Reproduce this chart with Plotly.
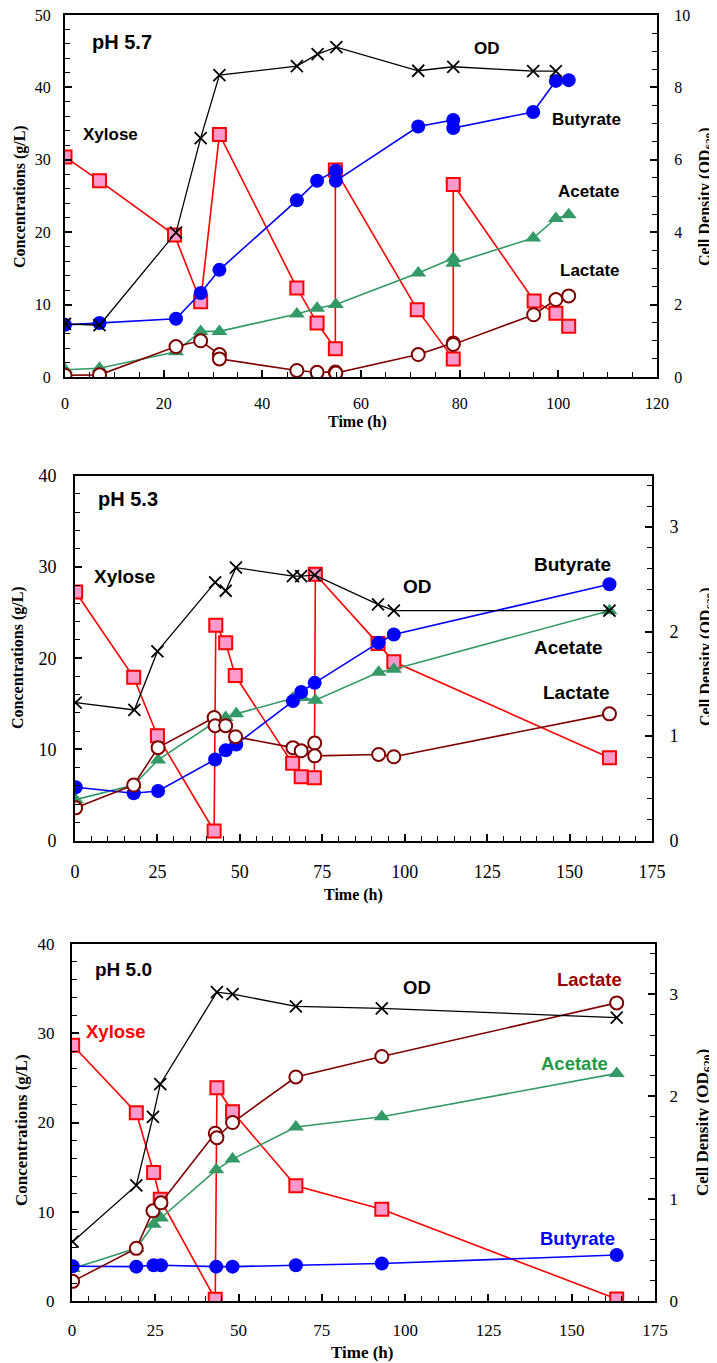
import plotly.graph_objects as go

W, H = 717, 1363
OFF = 8  # page body margin of the browser

# ---------------- Panel 1 : pH 5.7 ----------------
p1_xyl_t = [0, 7.0, 22.2, 27.5, 31.3, 47.0, 51.1, 54.8, 54.8, 71.4, 78.7, 78.7, 95.1, 99.5, 102.1]
p1_xyl = [30.4, 27.1, 19.6, 10.4, 33.5, 12.3, 7.45, 3.9, 28.6, 9.3, 2.5, 26.6, 10.5, 8.8, 7.0]
p1_but_t = [0, 7, 22.5, 27.5, 31.3, 47, 51.1, 54.9, 54.9, 71.6, 78.7, 78.7, 94.9, 99.5, 102.1]
p1_but = [7.2, 7.45, 8.05, 11.6, 14.8, 24.4, 27.1, 28.5, 27.1, 34.6, 35.5, 34.4, 36.6, 40.9, 41.0]
p1_ace_t = [0, 7, 22.5, 27.5, 31.3, 47, 51.1, 54.9, 71.6, 78.7, 78.7, 94.9, 99.5, 102.1]
p1_ace = [1.0, 1.2, 3.5, 6.3, 6.3, 8.7, 9.5, 10.0, 14.35, 16.4, 15.7, 19.2, 21.9, 22.4]
p1_lac_t = [0, 7, 22.5, 27.5, 31.3, 31.3, 47, 51.1, 54.8, 54.9, 71.6, 78.7, 78.7, 95.0, 99.5, 102.1]
p1_lac = [0.25, 0.3, 4.2, 5.0, 3.1, 2.5, 0.9, 0.65, 0.7, 0.55, 3.1, 4.7, 4.5, 8.6, 10.7, 11.2]
p1_od_t = [0, 7, 22.5, 27.5, 31.3, 47, 51.2, 55, 71.6, 78.7, 94.9, 99.5]
p1_od = [1.47, 1.43, 3.99, 6.6, 8.34, 8.59, 8.92, 9.11, 8.46, 8.57, 8.45, 8.45]

# ---------------- Panel 2 : pH 5.3 ----------------
p2_xyl_t = [0.2, 17.8, 25, 42.2, 42.7, 45.7, 48.6, 66, 68.6, 72.6, 72.9, 91.9, 96.7, 162.1]
p2_xyl = [27.25, 17.9, 11.5, 1.06, 23.6, 21.7, 18.1, 8.5, 7.0, 6.9, 29.2, 21.6, 19.6, 9.1]
p2_but_t = [0.2, 17.8, 25.2, 42.5, 45.7, 48.9, 66.1, 68.6, 72.7, 92.1, 96.7, 162.1]
p2_but = [5.85, 5.2, 5.45, 8.9, 9.9, 10.55, 15.3, 16.3, 17.3, 21.7, 22.6, 28.1]
p2_ace_t = [0.2, 17.8, 25.2, 42.5, 45.7, 48.9, 66.1, 68.9, 72.9, 92.1, 96.7, 162.1]
p2_ace = [4.5, 6.1, 8.85, 13.0, 13.5, 13.9, 15.6, 15.7, 15.4, 18.45, 18.8, 25.2]
p2_lac_t = [0.2, 17.8, 25.2, 42.2, 42.5, 45.7, 48.7, 66.1, 68.6, 72.7, 72.7, 92.1, 96.7, 162.1]
p2_lac = [3.6, 6.1, 10.2, 13.5, 12.6, 12.6, 11.4, 10.2, 9.85, 10.7, 9.3, 9.45, 9.2, 13.9]
p2_od_t = [0.2, 18, 25, 42.5, 45.7, 48.8, 66.1, 68.6, 72.7, 91.9, 96.7, 162.1]
p2_od = [1.32, 1.25, 1.81, 2.47, 2.39, 2.61, 2.53, 2.53, 2.54, 2.26, 2.20, 2.20]

# ---------------- Panel 3 : pH 5.0 ----------------
p3_xyl_t = [0.2, 19.3, 24.5, 26.5, 43, 43.5, 48.2, 67.2, 93, 163.5]
p3_xyl = [28.65, 21.1, 14.4, 11.4, 0.2, 23.9, 21.2, 12.9, 10.27, 0.22]
p3_but_t = [0.2, 19.3, 24.5, 26.7, 43.3, 48.2, 67.2, 93, 163.5]
p3_but = [3.9, 3.85, 4.0, 4.0, 3.85, 3.85, 4.0, 4.2, 5.15]
p3_ace_t = [0.2, 19.3, 24.5, 26.7, 43.3, 48.2, 67.2, 93, 163.5]
p3_ace = [3.65, 5.9, 8.6, 9.3, 14.7, 15.9, 19.5, 20.65, 25.5]
p3_lac_t = [0.2, 19.3, 24.3, 26.7, 43, 43.5, 48.2, 67.2, 93, 163.5]
p3_lac = [2.2, 5.9, 10.1, 11.0, 18.8, 18.3, 20.0, 25.1, 27.4, 33.4]
p3_od_t = [0.2, 19.3, 24.3, 26.5, 43.5, 48.2, 67.2, 93, 163.5]
p3_od = [0.58, 1.13, 1.80, 2.12, 3.02, 3.0, 2.88, 2.86, 2.77]

panel_titles = ["pH 5.7", "pH 5.3", "pH 5.0"]

RED, PINK = "#FF0000", "#FF99CC"
GREEN = "#339966"
BLUE = "#0000FF"
BROWN = "#800000"

def fx(x):
    return (x - OFF) / W

def fy(y):
    return 1 - (y - OFF) / H

fig = go.Figure()

panels = [
    dict(xyl=(p1_xyl_t, p1_xyl), but=(p1_but_t, p1_but), ace=(p1_ace_t, p1_ace),
         lac=(p1_lac_t, p1_lac), od=(p1_od_t, p1_od),
         xpx=(65, 657), ypx=(15, 377), xr=[0, 120], yr=[0, 50], y2r=[0, 10],
         xdt=20, xmdt=5, ydt=10, ymdt=2, y2dt=2, y2mdt=0.5, fs=16, xso=11, yso=9, y2so=12),
    dict(xyl=(p2_xyl_t, p2_xyl), but=(p2_but_t, p2_but), ace=(p2_ace_t, p2_ace),
         lac=(p2_lac_t, p2_lac), od=(p2_od_t, p2_od),
         xpx=(75, 652), ypx=(475.7, 840.7), xr=[0, 175], yr=[0, 40], y2r=[0, 3.49],
         xdt=25, xmdt=5, ydt=10, ymdt=2, y2dt=1, y2mdt=0.2, fs=18, xso=14, yso=13, y2so=12),
    dict(xyl=(p3_xyl_t, p3_xyl), but=(p3_but_t, p3_but), ace=(p3_ace_t, p3_ace),
         lac=(p3_lac_t, p3_lac), od=(p3_od_t, p3_od),
         xpx=(72, 655), ypx=(944, 1301), xr=[0, 175], yr=[0, 40], y2r=[0, 3.49],
         xdt=25, xmdt=5, ydt=10, ymdt=2, y2dt=1, y2mdt=0.2, fs=17, xso=13, yso=12, y2so=9),
]

layout = {}
for k, p in enumerate(panels, start=1):
    xid = "x" if k == 1 else f"x{k}"
    yl = "y" if k == 1 else f"y{2*k-1}"
    yr = f"y{2*k}"
    xkey = "xaxis" if k == 1 else f"xaxis{k}"
    ylkey = "yaxis" if k == 1 else f"yaxis{2*k-1}"
    yrkey = f"yaxis{2*k}"
    tf = dict(family="Liberation Serif", size=p["fs"], color="black")
    common = dict(showline=True, linewidth=2, linecolor="black", ticks="inside",
                  ticklen=7, tickwidth=1.5, tickcolor="black", showgrid=False,
                  zeroline=False, tickfont=tf, automargin=False, fixedrange=True,
                  ticklabeloverflow="allow")
    minor = lambda d: dict(dtick=d, ticks="inside", ticklen=5, tickwidth=1.2, tickcolor="black")
    xdom = [fx(p["xpx"][0]), fx(p["xpx"][1])]
    ydom = [fy(p["ypx"][1]), fy(p["ypx"][0])]
    layout[xkey] = dict(common, domain=xdom, range=p["xr"], anchor=yl, mirror=True,
                        tick0=0, dtick=p["xdt"], ticklabelstandoff=p["xso"],
                        minor=minor(p["xmdt"]))
    layout[ylkey] = dict(common, domain=ydom, range=p["yr"], anchor=xid,
                         tick0=0, dtick=p["ydt"], ticklabelstandoff=p["yso"],
                         minor=minor(p["ymdt"]))
    layout[yrkey] = dict(common, range=p["y2r"], anchor=xid, overlaying=yl, side="right",
                         tick0=0, dtick=p["y2dt"], ticklabelstandoff=p["y2so"],
                         minor=minor(p["y2mdt"]))

    fig.add_trace(go.Scatter(x=p["xyl"][0], y=p["xyl"][1], xaxis=xid, yaxis=yl,
                             mode="lines+markers", name="Xylose",
                             line=dict(color=RED, width=1.6),
                             marker=dict(symbol="square", size=13, color=PINK,
                                         line=dict(color=RED, width=2))))
    fig.add_trace(go.Scatter(x=p["ace"][0], y=p["ace"][1], xaxis=xid, yaxis=yl,
                             mode="lines+markers", name="Acetate",
                             line=dict(color=GREEN, width=1.6),
                             marker=dict(symbol="triangle-up", size=14, color=GREEN,
                                         line=dict(width=0))))
    fig.add_trace(go.Scatter(x=p["but"][0], y=p["but"][1], xaxis=xid, yaxis=yl,
                             mode="lines+markers", name="Butyrate",
                             line=dict(color=BLUE, width=1.6),
                             marker=dict(symbol="circle", size=14, color=BLUE,
                                         line=dict(width=0))))
    fig.add_trace(go.Scatter(x=p["lac"][0], y=p["lac"][1], xaxis=xid, yaxis=yl,
                             mode="lines+markers", name="Lactate",
                             line=dict(color=BROWN, width=1.6),
                             marker=dict(symbol="circle", size=13, color="white",
                                         line=dict(color=BROWN, width=2))))
    fig.add_trace(go.Scatter(x=p["od"][0], y=p["od"][1], xaxis=xid, yaxis=yr,
                             mode="lines+markers", name="OD",
                             line=dict(color="black", width=1.3),
                             marker=dict(symbol="x-thin", size=12, color="black",
                                         line=dict(color="black", width=1.8))))

ann = []

def label(text, x, y, size, color="black", family="Liberation Sans", bold=True, angle=0):
    t = f"<b>{text}</b>" if bold else text
    ann.append(dict(text=t, x=fx(x), y=fy(y), xref="paper", yref="paper",
                    xanchor="center", yanchor="middle", showarrow=False,
                    textangle=angle, font=dict(family=family, size=size, color=color)))

# Panel 1 labels
label(panel_titles[0], 122, 42, 20)
label("Xylose", 110, 134, 17)
label("OD", 487, 49, 17)
label("Butyrate", 586, 120, 17)
label("Acetate", 588, 191, 17)
label("Lactate", 590, 271, 17)
# Panel 2 labels
label(panel_titles[1], 128, 499, 20)
label("Xylose", 124, 577, 19)
label("OD", 417, 586, 19)
label("Butyrate", 572, 564, 19)
label("Acetate", 568, 647, 19)
label("Lactate", 576, 692, 19)
# Panel 3 labels
label(panel_titles[2], 123, 969, 19)
label("Xylose", 116, 1031, 18.5, color=RED)
label("OD", 417, 988, 18.5)
label("Lactate", 589, 979, 18.5, color="#990000")
label("Acetate", 574, 1063, 18.5, color="#229944")
label("Butyrate", 577, 1238, 18.5, color=BLUE)

# Axis titles
serif = "Liberation Serif"
for (lx, ly, rx, ry, tx, ty, fs) in [(20, 197, 705, 197, 357, 422, 16),
                                       (18, 658, 706, 657, 353, 895, 16),
                                       (21, 1130, 704, 1123, 362, 1352, 17)]:
    label("Concentrations (g/L)", lx, ly, fs, family=serif, angle=-90)
    label("Cell Density (OD<sub>620</sub>)", rx, ry, fs, family=serif, angle=-90)
    label("Time (h)", tx, ty, fs, family=serif)

fig.update_layout(layout)
fig.update_layout(width=W, height=H, margin=dict(l=0, r=0, t=0, b=0),
                  paper_bgcolor="white", plot_bgcolor="white",
                  showlegend=False, annotations=ann)

fig.write_html("out.html")
